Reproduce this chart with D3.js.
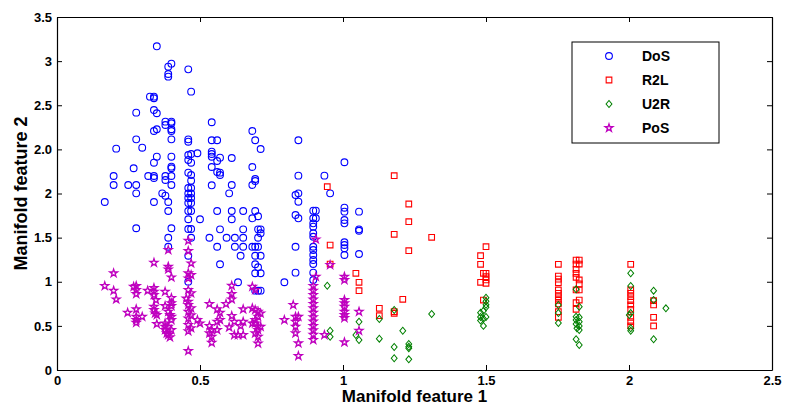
<!DOCTYPE html>
<html>
<head>
<meta charset="utf-8">
<script src="https://cdn.jsdelivr.net/npm/d3@7"></script>
<style>
  body { margin: 0; background: #fff; }
  text { font-family: "Liberation Sans", Arial, sans-serif; font-weight: bold; }
</style>
</head>
<body>
<div id="chart"></div>
<script>
// tick labels as printed on the figure (the y axis repeats "2" / "2.0")
const xTicks = [0, 0.5, 1, 1.5, 2, 2.5]
const xTickLabels = ['0', '0.5', '1', '1.5', '2', '2.5']
const yTicks = [0, 0.5, 1, 1.5, 2, 2.5, 3, 3.5, 4]
const yTickLabels = ['0', '0.5', '1', '1.5', '2', '2.0', '2.5', '3', '3.5']

const classes = ['DoS', 'R2L', 'U2R', 'PoS']

// points, y in axis-position units (0..4)
const dos = [
  [0.349,3.668],[0.389,3.437],[0.400,3.471],[0.389,3.354],[0.389,3.324],
  [0.325,3.097],[0.339,3.097],[0.339,3.079],[0.277,2.916],[0.339,2.946],[0.349,2.909],
  [0.379,2.814],[0.379,2.776],[0.400,2.814],[0.400,2.796],[0.339,2.708],[0.349,2.728],
  [0.400,2.728],[0.400,2.708],[0.400,2.614],[0.277,2.614],[0.207,2.508],[0.298,2.519],
  [0.349,2.417],[0.339,2.349],[0.400,2.417],[0.400,2.304],[0.400,2.286],[0.268,2.286],
  [0.198,2.198],[0.198,2.096],[0.319,2.198],[0.339,2.198],[0.339,2.176],[0.379,2.198],
  [0.379,2.153],[0.400,2.198],[0.400,2.096],[0.249,2.096],[0.277,2.096],[0.277,2.002],
  [0.167,1.904],[0.339,1.904],[0.368,2.002],[0.379,1.975],[0.389,1.904],[0.389,1.802],
  [0.277,1.606],[0.400,1.606],[0.389,1.499],[0.389,1.397],
  [0.459,3.407],[0.469,3.154],[0.541,2.807],[0.683,2.708],[0.459,2.614],[0.459,2.587],
  [0.541,2.603],[0.560,2.603],[0.693,2.603],[0.712,2.504],[0.459,2.436],[0.469,2.448],
  [0.459,2.380],[0.469,2.349],[0.491,2.456],[0.541,2.474],[0.541,2.448],[0.541,2.417],
  [0.570,2.406],[0.560,2.368],[0.611,2.402],[0.541,2.300],[0.683,2.300],[0.459,2.236],
  [0.469,2.210],[0.469,2.145],[0.560,2.244],[0.570,2.236],[0.570,2.210],[0.693,2.164],
  [0.693,2.142],[0.683,2.096],[0.541,2.093],[0.611,2.096],[0.602,2.002],
  [0.459,2.062],[0.469,2.062],[0.459,2.000],[0.469,2.000],[0.459,1.949],[0.469,1.949],
  [0.459,1.892],[0.469,1.892],[0.459,1.802],[0.469,1.802],[0.560,1.802],[0.611,1.802],
  [0.651,1.802],[0.693,1.802],[0.459,1.708],[0.500,1.708],[0.611,1.708],[0.683,1.719],
  [0.703,1.742],[0.459,1.598],[0.469,1.598],[0.570,1.594],[0.651,1.594],[0.703,1.594],
  [0.712,1.594],[0.712,1.549],[0.469,1.499],[0.533,1.499],[0.593,1.499],[0.622,1.499],
  [0.651,1.499],[0.703,1.499],[0.560,1.397],[0.622,1.397],[0.651,1.397],[0.683,1.397],
  [0.693,1.397],[0.703,1.397],[0.459,1.295],[0.642,1.295],[0.693,1.295],[0.712,1.295],
  [0.570,1.198],[0.693,1.198],[0.703,1.164],[0.693,1.096],[0.712,1.096],[0.459,1.001],
  [0.633,0.994],[0.693,0.899],[0.703,0.899],[0.712,0.899],
  [0.844,2.603],[0.844,2.202],[0.935,2.202],[0.844,2.002],[0.834,1.983],[0.844,1.907],
  [0.834,1.756],[0.844,1.719],[0.834,1.397],[0.834,1.103],[0.795,0.994],[0.955,2.002],
  [0.896,1.805],[0.905,1.805],[0.896,1.719],[0.905,1.719],[0.896,1.662],[0.896,1.624],
  [0.896,1.549],[0.896,1.510],[0.896,1.397],[0.896,1.360],[0.896,1.303],[0.896,1.246],
  [0.896,1.201],[0.896,1.103],[0.896,1.020],
  [1.005,2.354],[1.005,1.839],[1.005,1.794],[1.005,1.700],[1.005,1.662],[1.005,1.447],
  [1.005,1.416],[1.005,1.379],[1.005,1.303],[1.056,1.794],[1.056,1.594],[1.056,1.578],
  [1.056,1.314]
]

const r2l = [
  [1.179,2.202],[0.945,2.077],[1.230,1.881],[1.230,1.680],[1.179,1.538],[1.310,1.504],
  [0.955,1.416],[1.230,1.352],[0.955,1.201],[1.045,1.096],[1.056,0.994],[1.056,0.899],
  [1.209,0.801],[1.127,0.699],[1.127,0.615],[1.179,0.661],[1.179,0.642],
  [1.500,1.397],[1.481,1.295],[1.481,1.198],[1.491,1.096],[1.500,1.096],[1.500,1.057],
  [1.500,1.020],[1.500,0.982],[1.481,0.994],[1.491,0.793],
  [1.753,1.198],[1.753,1.065],[1.753,1.030],[1.753,0.990],[1.753,0.907],[1.753,0.869],
  [1.753,0.830],[1.753,0.790],[1.753,0.748],[1.753,0.661],[1.753,0.597],
  [1.815,1.246],[1.826,1.246],[1.815,1.201],[1.826,1.201],[1.815,1.141],[1.815,1.096],
  [1.815,1.050],[1.826,1.020],[1.826,0.975],[1.826,0.907],[1.815,0.907],[1.826,0.793],
  [1.815,0.763],[1.815,0.688],
  [2.006,1.198],[2.006,0.907],[2.006,0.869],[2.006,0.831],[2.006,0.786],[2.006,0.737],
  [2.006,0.688],[2.006,0.597],[2.006,0.548],[2.006,0.499],
  [2.086,0.785],[2.086,0.737],[2.086,0.597],[2.086,0.499]
]

const u2r = [
  [0.945,0.955],[1.179,0.680],[1.310,0.635],[1.127,0.578],[1.056,0.547],[0.955,0.445],
  [0.955,0.377],[1.045,0.397],[1.056,0.340],[1.209,0.445],[1.127,0.355],[1.179,0.261],
  [1.230,0.295],[1.230,0.264],[1.230,0.246],[1.179,0.133],[1.230,0.121],
  [1.500,0.820],[1.500,0.780],[1.500,0.740],[1.500,0.710],[1.491,0.670],[1.481,0.650],
  [1.481,0.600],[1.491,0.580],[1.500,0.600],[1.481,0.560],[1.491,0.500],
  [1.753,0.737],[1.753,0.646],[1.753,0.533],
  [1.815,0.914],[1.826,0.717],[1.815,0.604],[1.826,0.597],[1.815,0.567],[1.826,0.547],
  [1.815,0.521],[1.826,0.499],[1.818,0.473],[1.826,0.453],[1.815,0.348],[1.826,0.283],
  [2.006,1.096],[2.006,0.952],[2.006,0.646],[2.001,0.623],[2.006,0.473],[2.006,0.445],
  [2.086,0.899],[2.086,0.793],[2.086,0.348],[2.129,0.699]
]

const pos = [
  [0.389,1.360],[0.339,1.216],[0.198,1.096],[0.389,1.171],[0.389,1.141],[0.400,1.050],
  [0.167,0.952],[0.198,0.899],[0.207,0.801],[0.268,0.944],[0.277,0.952],[0.277,0.907],
  [0.277,0.861],[0.317,0.899],[0.339,0.929],[0.339,0.887],[0.339,0.850],[0.346,0.793],
  [0.378,0.887],[0.400,0.816],[0.400,0.756],[0.400,0.725],[0.378,0.725],[0.247,0.649],
  [0.277,0.688],[0.277,0.604],[0.277,0.567],[0.277,0.536],[0.298,0.604],[0.339,0.717],
  [0.339,0.680],[0.343,0.642],[0.349,0.623],[0.389,0.661],[0.395,0.623],[0.400,0.604],
  [0.400,0.567],[0.349,0.521],[0.378,0.529],[0.378,0.491],[0.378,0.453],[0.384,0.416],
  [0.389,0.397],[0.395,0.371],[0.400,0.453],[0.389,0.491],
  [0.459,1.465],[0.459,1.348],[0.469,1.209],[0.459,1.096],[0.469,1.076],[0.459,1.039],
  [0.459,0.907],[0.469,0.870],[0.452,0.810],[0.459,0.775],[0.459,0.737],[0.469,0.700],
  [0.459,0.660],[0.469,0.620],[0.459,0.585],[0.459,0.510],[0.469,0.475],[0.459,0.440],
  [0.500,0.529],[0.491,0.567],[0.611,0.955],[0.611,0.861],[0.611,0.801],[0.591,0.748],
  [0.533,0.748],[0.560,0.688],[0.570,0.649],[0.651,0.688],[0.611,0.612],[0.570,0.567],
  [0.560,0.547],[0.620,0.547],[0.642,0.499],[0.651,0.547],[0.533,0.499],[0.541,0.453],
  [0.533,0.416],[0.560,0.453],[0.541,0.377],[0.602,0.484],[0.620,0.397],[0.633,0.397],
  [0.651,0.397],[0.541,0.309],[0.459,0.215],[0.683,0.944],[0.693,0.907],
  [0.683,0.699],[0.693,0.680],[0.703,0.661],[0.712,0.642],[0.703,0.604],[0.693,0.567],
  [0.683,0.529],[0.693,0.529],[0.703,0.491],[0.712,0.491],[0.703,0.453],[0.693,0.416],
  [0.703,0.377],[0.703,0.300],
  [0.795,0.567],[0.826,0.737],[0.834,0.604],[0.844,0.604],[0.834,0.547],[0.834,0.491],
  [0.834,0.416],[0.844,0.303],[0.844,0.159],[0.905,1.481],[0.955,1.190],[0.905,1.057],
  [0.896,0.952],[0.896,0.900],[0.896,0.850],[0.896,0.800],[0.896,0.750],[0.896,0.700],
  [0.896,0.650],[0.896,0.600],[0.896,0.550],[0.896,0.500],[0.896,0.450],[0.896,0.400],
  [0.896,0.340],[1.005,1.057],[1.005,1.020],[1.005,0.793],[1.005,0.756],[1.005,0.717],
  [1.005,0.661],[1.005,0.623],[1.005,0.589],[1.056,0.661],[1.056,0.445],[0.935,0.397],
  [1.005,0.314]
]

const w = 786
const h = 406
const plotL = 57, plotR = 772, plotT = 17, plotB = 370

const x = d3.scaleLinear().domain([0, 2.5]).range([plotL, plotR])
const y = d3.scaleLinear().domain([0, 4]).range([plotB, plotT])

const svg = d3.select('#chart')
  .append('svg')
  .attr('width', w)
  .attr('height', h)

// styles for each class (diamond = square turned 45deg and squeezed a bit)
const styles = {
  DoS: { color: '#0000ff', type: d3.symbolCircle, size: 36, sw: 1.1, extra: '' },
  R2L: { color: '#ff0000', type: d3.symbolSquare, size: 32, sw: 1.1, extra: '' },
  U2R: { color: '#008000', type: d3.symbolSquare, size: 24, sw: 1.1, extra: ' scale(0.85,1) rotate(45)' },
  PoS: { color: '#bf00bf', type: d3.symbolStar, size: 19, sw: 1.3, extra: '' }
}
const sets = { DoS: dos, R2L: r2l, U2R: u2r, PoS: pos }

classes.forEach(c => {
  const s = styles[c]
  svg.append('g')
    .selectAll('path')
    .data(sets[c])
    .enter()
    .append('path')
    .attr('transform', d => 'translate(' + x(d[0]) + ',' + y(d[1]) + ')' + s.extra)
    .attr('d', d3.symbol().type(s.type).size(s.size))
    .attr('fill', 'none')
    .attr('stroke', s.color)
    .attr('stroke-width', s.sw)
})

// axes, ticks pointing inward, box around plot
const xAxis = d3.axisBottom(x).tickValues(xTicks).tickSize(-5).tickSizeOuter(0).tickPadding(6)
  .tickFormat((d, i) => xTickLabels[i])
const yAxis = d3.axisLeft(y).tickValues(yTicks).tickSize(-5).tickSizeOuter(0).tickPadding(5)
  .tickFormat((d, i) => yTickLabels[i])

const gx = svg.append('g').attr('transform', 'translate(0,' + plotB + ')').call(xAxis)
const gy = svg.append('g').attr('transform', 'translate(' + plotL + ',0)').call(yAxis)
svg.append('g').attr('transform', 'translate(0,' + plotT + ')')
  .call(d3.axisTop(x).tickValues(xTicks).tickSize(-5).tickSizeOuter(0).tickFormat(''))
svg.append('g').attr('transform', 'translate(' + plotR + ',0)')
  .call(d3.axisRight(y).tickValues(yTicks).tickSize(-5).tickSizeOuter(0).tickFormat(''))

svg.selectAll('.domain').attr('stroke', '#000').attr('stroke-width', 1.2)
svg.selectAll('.tick line').attr('stroke', '#000')
gx.selectAll('text').attr('font-size', 13).attr('font-weight', 'bold').attr('fill', '#000')
gy.selectAll('text').attr('font-size', 13).attr('font-weight', 'bold').attr('fill', '#000')

svg.append('text')
  .attr('x', (plotL + plotR) / 2)
  .attr('y', 402)
  .attr('text-anchor', 'middle')
  .attr('font-size', 17)
  .text('Manifold feature 1')

svg.append('text')
  .attr('transform', 'translate(27,' + ((plotT + plotB) / 2) + ') rotate(-90)')
  .attr('text-anchor', 'middle')
  .attr('font-size', 18)
  .text('Manifold feature 2')

// legend
const lg = svg.append('g').attr('transform', 'translate(572,42)')
lg.append('rect')
  .attr('width', 147).attr('height', 101)
  .attr('fill', 'white').attr('stroke', '#000').attr('stroke-width', 1)
classes.forEach((c, i) => {
  const s = styles[c]
  const cy = 14 + i * 24
  lg.append('path')
    .attr('transform', 'translate(37,' + cy + ')' + s.extra)
    .attr('d', d3.symbol().type(s.type).size(s.size))
    .attr('fill', 'none')
    .attr('stroke', s.color)
    .attr('stroke-width', s.sw)
  lg.append('text')
    .attr('x', 70)
    .attr('y', cy + 5)
    .attr('font-size', 14)
    .text(c)
})
</script>
</body>
</html>
